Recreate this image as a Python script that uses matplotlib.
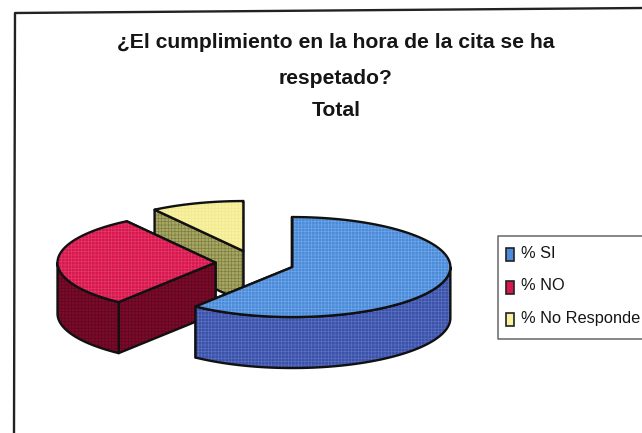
import numpy as np
import matplotlib
matplotlib.use("Agg")
import matplotlib.pyplot as plt
from matplotlib.patches import Polygon, Rectangle

categories = ["% SI", "% NO", "% No Responde"]
values = [60.5, 30, 9.5]
top_colors = ["#4b8bd9", "#d9174f", "#f8f2a2"]
side_colors = ["#3c52a8", "#7c0a2a", "#a9a862"]
top_hatch = ["#6fa6e6", "#e23a68", "#f1e98c"]
side_hatch = ["#5a70c0", "#5e0820", "#7d7d45"]
title_lines = ["¿El cumplimiento en la hora de la cita se ha", "respetado?", "Total"]
legend_y = [254, 287, 319]

W, H = 642, 433
CX, CY, RX, RY, DEPTH, EXPLODE = 255, 263, 158, 50, 51, 0.25

plt.rcParams["font.family"] = ["Liberation Sans", "DejaVu Sans"]
plt.rcParams["hatch.linewidth"] = 0.5
fig = plt.figure(figsize=(W / 100, H / 100), dpi=100)
ax = fig.add_axes([0, 0, 1, 1])
ax.set_xlim(0, W)
ax.set_ylim(H, 0)
ax.axis("off")


def pt(theta, c):
    return c[0] + RX * np.sin(theta), c[1] - RY * np.cos(theta)


def face(poly, color, hatch, z):
    ax.add_patch(Polygon(poly, closed=True, facecolor=color, edgecolor=hatch,
                         hatch="+++++", linewidth=0, zorder=z))
    ax.add_patch(Polygon(poly, closed=True, facecolor="none", edgecolor="#111111",
                         linewidth=1.7, joinstyle="round", zorder=z + 0.01))


def draw_slice(start, end, i, z):
    mid = (start + end) / 2
    c = (CX + EXPLODE * RX * np.sin(mid), CY - EXPLODE * RY * np.cos(mid))
    for k, a in enumerate(sorted([start, end], key=lambda a: pt(a, c)[1])):
        x, y = pt(a, c)
        face([c, (x, y), (x, y + DEPTH), (c[0], c[1] + DEPTH)],
             side_colors[i], side_hatch[i], z + 0.1 * k)
    lo, hi = max(start, np.pi / 2), min(end, 3 * np.pi / 2)
    if hi > lo:
        t = np.linspace(lo, hi, 80)
        xs, ys = pt(t, c)
        poly = np.r_[np.c_[xs, ys], np.c_[xs, ys + DEPTH][::-1]]
        face(poly, side_colors[i], side_hatch[i], z + 0.3)
    t = np.linspace(start, end, 160)
    xs, ys = pt(t, c)
    face(np.r_[[c], np.c_[xs, ys]], top_colors[i], top_hatch[i], z + 0.5)


fracs = np.array(values, dtype=float) / sum(values)
edges = np.r_[0, np.cumsum(fracs)] * 2 * np.pi
for i, z in zip([2, 1, 0], [2, 3, 4]):
    draw_slice(edges[i], edges[i + 1], i, z)

# Chart frame (the scan is very slightly tilted)
ax.plot([642, 15, 14], [8, 13, 433], color="#222222", lw=1.7, zorder=1, clip_on=False)

# Title
for line, y in zip(title_lines, [42, 78, 110]):
    ax.text(336, y, line, ha="center", va="center",
            fontsize=15.2, fontweight="bold", color="#151515")

# Legend
ax.plot([642, 498, 498, 642], [236, 236, 339, 339], color="#666666", lw=1.1, zorder=5)
for label, color, y in zip(categories, top_colors, legend_y):
    ax.add_patch(Rectangle((506, y - 6), 8, 13, facecolor=color, edgecolor="#222222",
                           linewidth=1.2, zorder=6))
    ax.text(521, y - 1, label, ha="left", va="center", fontsize=11.8, color="#151515", zorder=6)

fig.savefig("out.png", dpi=100, facecolor="white")
